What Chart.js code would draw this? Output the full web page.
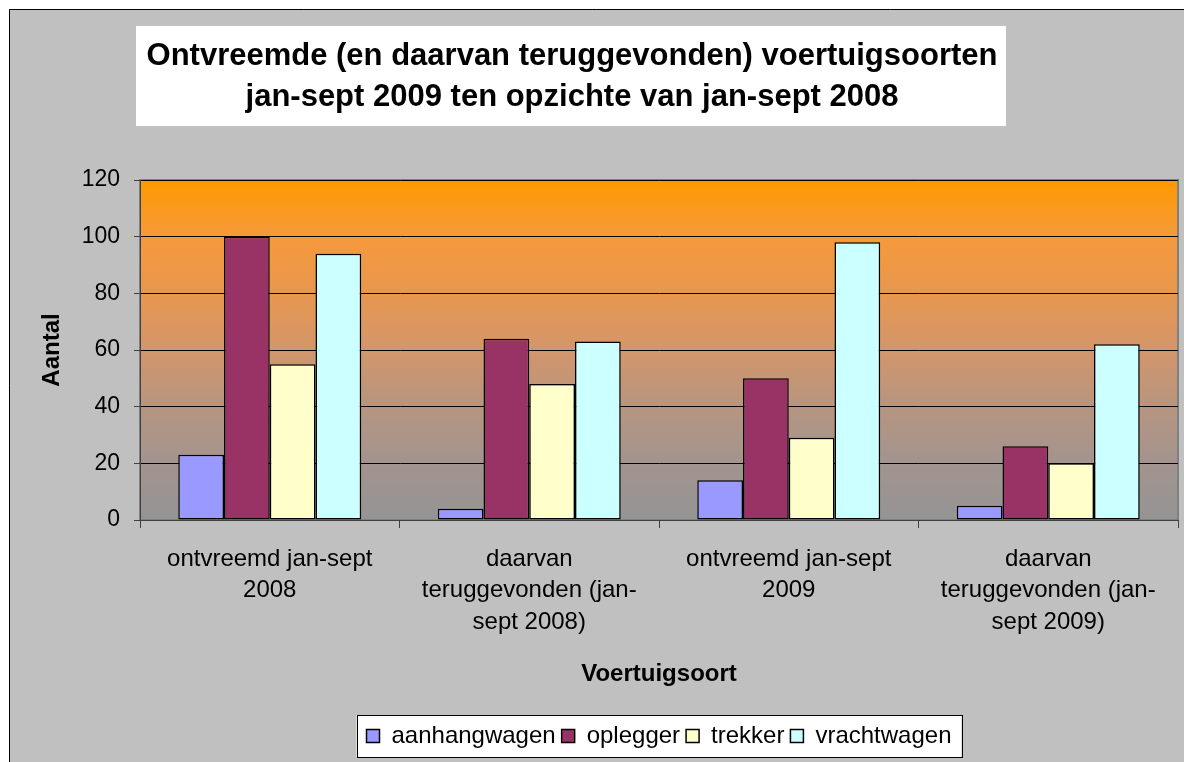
<!DOCTYPE html>
<html>
<head>
<meta charset="utf-8">
<script src="https://cdn.jsdelivr.net/npm/chart.js@4.4.1/dist/chart.umd.min.js"></script>
<style>
  html, body { margin: 0; padding: 0; background: #ffffff; }
  #wrap { width: 1184px; height: 762px; }
</style>
</head>
<body>
<div id="wrap"><canvas id="chart" width="1184" height="762"></canvas></div>
<script>
const categories = [
    ['ontvreemd jan-sept', '2008'],
    ['daarvan', 'teruggevonden (jan-', 'sept 2008)'],
    ['ontvreemd jan-sept', '2009'],
    ['daarvan', 'teruggevonden (jan-', 'sept 2009)']
];
const aanhangwagen = [23, 4, 14, 5];
const oplegger = [100, 64, 50, 26];
const trekker = [55, 48, 29, 20];
const vrachtwagen = [94, 63, 98, 62];
const titleLines = [
    'Ontvreemde (en daarvan teruggevonden) voertuigsoorten',
    'jan-sept 2009 ten opzichte van jan-sept 2008'
];

const FONT = "'Liberation Sans', Arial, sans-serif";

const backdrop = {
    id: 'backdrop',
    beforeDraw(chart) {
        const ctx = chart.ctx;
        const a = chart.chartArea;
        ctx.save();
        ctx.fillStyle = '#ffffff';
        ctx.fillRect(0, 0, chart.width, chart.height);
        ctx.fillStyle = '#c0c0c0';
        ctx.fillRect(9, 9, chart.width, chart.height);
        ctx.strokeStyle = '#000000';
        ctx.lineWidth = 1;
        ctx.beginPath();
        ctx.moveTo(9.5, chart.height);
        ctx.lineTo(9.5, 9.5);
        ctx.lineTo(chart.width, 9.5);
        ctx.stroke();

        // title box
        ctx.fillStyle = '#ffffff';
        ctx.fillRect(136, 26, 870, 100);
        ctx.fillStyle = '#000000';
        ctx.font = 'bold 31px ' + FONT;
        ctx.textAlign = 'center';
        ctx.textBaseline = 'middle';
        ctx.fillText(titleLines[0], 572, 56);
        ctx.fillText(titleLines[1], 572, 97);

        // plot area gradient
        const g = ctx.createLinearGradient(0, a.top, 0, a.bottom);
        g.addColorStop(0, '#ff9900');
        g.addColorStop(0.17, '#f59a3c');
        g.addColorStop(0.33, '#e8974f');
        g.addColorStop(0.5, '#d3966b');
        g.addColorStop(0.67, '#b69580');
        g.addColorStop(0.83, '#a3948e');
        g.addColorStop(1, '#949494');
        ctx.fillStyle = g;
        ctx.fillRect(a.left, a.top, a.right - a.left, a.bottom - a.top);
        ctx.strokeStyle = '#808080';
        ctx.lineWidth = 2;
        ctx.strokeRect(a.left, a.top, a.right - a.left, a.bottom - a.top);

        // legend box
        const hb = chart.legend.legendHitBoxes;
        if (hb && hb.length) {
            const l = Math.min(...hb.map(b => b.left)) - 10;
            const r = Math.max(...hb.map(b => b.left + b.width)) + 10;
            const t = hb[0].top - 9;
            const h = hb[0].height + 18;
            ctx.fillStyle = '#ffffff';
            ctx.fillRect(l, t, r - l, h);
            ctx.strokeStyle = '#000000';
            ctx.lineWidth = 1;
            ctx.strokeRect(Math.round(l) + 0.5, Math.round(t) + 0.5, Math.round(r - l), Math.round(h));
        }
        ctx.restore();
    }
};

function series(label, data, color) {
    return {
        label: label,
        data: data,
        backgroundColor: color,
        borderColor: '#000000',
        borderWidth: 1.5,
        borderSkipped: false,
        categoryPercentage: 0.705,
        barPercentage: 1.0
    };
}

new Chart(document.getElementById('chart'), {
    type: 'bar',
    data: {
        labels: categories,
        datasets: [
            series('aanhangwagen', aanhangwagen, '#9999ff'),
            series('oplegger', oplegger, '#993366'),
            series('trekker', trekker, '#ffffcc'),
            series('vrachtwagen', vrachtwagen, '#ccffff')
        ]
    },
    options: {
        responsive: false,
        animation: false,
        layout: { padding: { left: 10, right: 6, top: 180, bottom: 4 } },
        plugins: {
            title: { display: false },
            tooltip: { enabled: false },
            legend: {
                position: 'bottom',
                fullSize: false,
                labels: {
                    color: '#000000',
                    font: { family: FONT, size: 24 },
                    boxWidth: 13,
                    boxHeight: 13,
                    padding: 6
                }
            }
        },
        scales: {
            x: {
                grid: {
                    offset: true,
                    drawOnChartArea: false,
                    color: '#404040',
                    tickLength: 8
                },
                border: { color: '#404040', width: 1 },
                ticks: {
                    color: '#000000',
                    font: { family: FONT, size: 24, lineHeight: 1.3 },
                    maxRotation: 0,
                    autoSkip: false,
                    padding: 16
                },
                title: {
                    display: true,
                    text: 'Voertuigsoort',
                    color: '#000000',
                    font: { family: FONT, size: 24, weight: 'bold' },
                    padding: { top: 12, bottom: 29 }
                },
                afterFit(scale) { scale.height = 198; }
            },
            y: {
                min: 0,
                max: 120,
                ticks: {
                    stepSize: 20,
                    color: '#000000',
                    font: { family: FONT, size: 23 },
                    padding: 14
                },
                grid: {
                    color: '#000000',
                    tickColor: '#404040',
                    tickLength: 6
                },
                border: { color: '#404040', width: 1 },
                title: {
                    display: true,
                    text: 'Aantal',
                    color: '#000000',
                    font: { family: FONT, size: 24, weight: 'bold' },
                    padding: { top: 28, bottom: 0 }
                },
                afterFit(scale) { scale.width = 130; }
            }
        }
    },
    plugins: [backdrop]
});
</script>
</body>
</html>
